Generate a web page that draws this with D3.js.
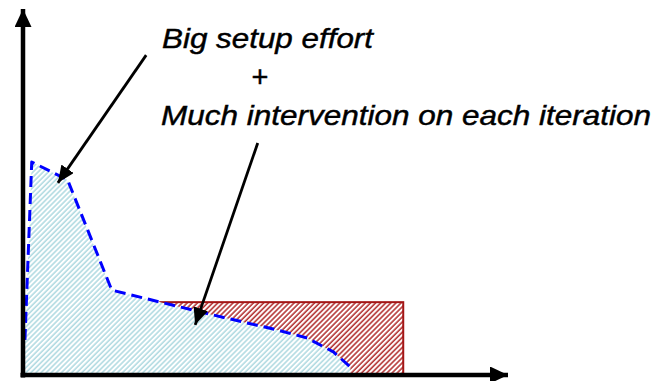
<!DOCTYPE html>
<html>
<head>
<meta charset="utf-8">
<script src="https://cdn.jsdelivr.net/npm/d3@7"></script>
<style>
  html, body { margin: 0; padding: 0; background: #fff; }
  svg { display: block; }
</style>
</head>
<body>
<svg id="chart" width="658" height="381"></svg>
<script>
// ---- data (abstract units: x = iterations/time, y = effort) ----
const effortX = [0.4, 1.8, 9.2, 18.3, 28.3, 39.2, 45.3, 52.4, 58.6, 64.0, 67.5];
const effortY = [9.6, 58.2, 53.3, 23.2, 19.9, 16.4, 14.5, 12.3, 10.1, 6.3, 2.2];
const boxX = [28.3, 78.4];
const boxY = [19.9];
const labels = ["Big setup effort", "+", "Much intervention on each iteration"];
// annotation arrows: [fromX, fromY, toX, toY]
const arrowFromX = [25.4, 48.4];
const arrowFromY = [87.4, 63.4];
const arrowToX = [7.2, 35.5];
const arrowToY = [52.5, 13.7];

const W = 658, H = 381;
const svg = d3.select("#chart");
const x = d3.scaleLinear().domain([0, 100]).range([23, 508]);
const y = d3.scaleLinear().domain([0, 100]).range([375, 9]);

const defs = svg.append("defs");
const pat1 = defs.append("pattern").attr("id", "hatchRed")
  .attr("patternUnits", "userSpaceOnUse").attr("width", 3.6).attr("height", 3.6)
  .attr("patternTransform", "rotate(45)");
pat1.append("rect").attr("width", 3.6).attr("height", 3.6).attr("fill", "#fff");
pat1.append("line").attr("x1", 1).attr("y1", 0).attr("x2", 1).attr("y2", 3.6)
  .attr("stroke", "#b02a2a").attr("stroke-width", 1.5);
const pat2 = defs.append("pattern").attr("id", "hatchBlue")
  .attr("patternUnits", "userSpaceOnUse").attr("width", 3.6).attr("height", 3.6)
  .attr("patternTransform", "rotate(45)");
pat2.append("rect").attr("width", 3.6).attr("height", 3.6).attr("fill", "#fff");
pat2.append("line").attr("x1", 1).attr("y1", 0).attr("x2", 1).attr("y2", 3.6)
  .attr("stroke", "#b3dbe2").attr("stroke-width", 1.6);

function marker(id, len, wid) {
  defs.append("marker").attr("id", id)
    .attr("markerUnits", "userSpaceOnUse")
    .attr("viewBox", `0 ${-wid/2} ${len} ${wid}`)
    .attr("refX", len).attr("refY", 0)
    .attr("markerWidth", len).attr("markerHeight", wid)
    .attr("orient", "auto")
    .append("path").attr("d", `M0,${-wid/2}L${len},0L0,${wid/2}Z`).attr("fill", "#000");
}
marker("axisHead", 18, 17);
marker("noteHead", 17, 15);

// red box (hatched)
svg.append("rect")
  .attr("x", x(boxX[0])).attr("y", y(boxY[0]))
  .attr("width", x(boxX[1]) - x(boxX[0]))
  .attr("height", y(0) - y(boxY[0]))
  .attr("fill", "url(#hatchRed)")
  .attr("stroke", "#a31515").attr("stroke-width", 2);

// blue area
const pts = effortX.map((d, i) => [d, effortY[i]]);
const area = d3.area().x(d => x(d[0])).y0(y(0)).y1(d => y(d[1]));
svg.append("path").datum(pts).attr("d", area).attr("fill", "url(#hatchBlue)");

// blue dashed line
const line = d3.line().x(d => x(d[0])).y(d => y(d[1]));
svg.append("path").datum(pts).attr("d", line)
  .attr("fill", "none").attr("stroke", "#0000ff").attr("stroke-width", 3)
  .attr("stroke-dasharray", "11,6").attr("stroke-linejoin", "round");

// axes
svg.append("line").attr("x1", x(0)).attr("y1", y(0) + 2.5).attr("x2", x(0)).attr("y2", y(100))
  .attr("stroke", "#000").attr("stroke-width", 4.5).attr("marker-end", "url(#axisHead)");
svg.append("line").attr("x1", x(0) - 2.5).attr("y1", y(0)).attr("x2", x(100)).attr("y2", y(0))
  .attr("stroke", "#000").attr("stroke-width", 4.5).attr("marker-end", "url(#axisHead)");

// annotation arrows
arrowFromX.forEach((fx, i) => {
  svg.append("line")
    .attr("x1", x(fx)).attr("y1", y(arrowFromY[i]))
    .attr("x2", x(arrowToX[i])).attr("y2", y(arrowToY[i]))
    .attr("stroke", "#000").attr("stroke-width", 2.8)
    .attr("marker-end", "url(#noteHead)");
});

// texts
const font = "'Liberation Sans', Arial, sans-serif";
function txt(s, tx, ty, size, italic, len, anchor) {
  const t = svg.append("text").attr("x", tx).attr("y", ty).text(s)
    .attr("font-family", font).attr("font-size", size)
    .attr("font-style", italic ? "italic" : "normal")
    .attr("fill", "#000").attr("stroke", "#000").attr("stroke-width", 0.45)
    .attr("text-anchor", anchor || "start");
  if (len) t.attr("textLength", len).attr("lengthAdjust", "spacingAndGlyphs");
  return t;
}
txt(labels[0], 162, 48, 28.5, true, 211);
txt(labels[1], 260, 87, 29, false, null, "middle");
txt(labels[2], 161, 125, 28.5, true, 490);
</script>
</body>
</html>
